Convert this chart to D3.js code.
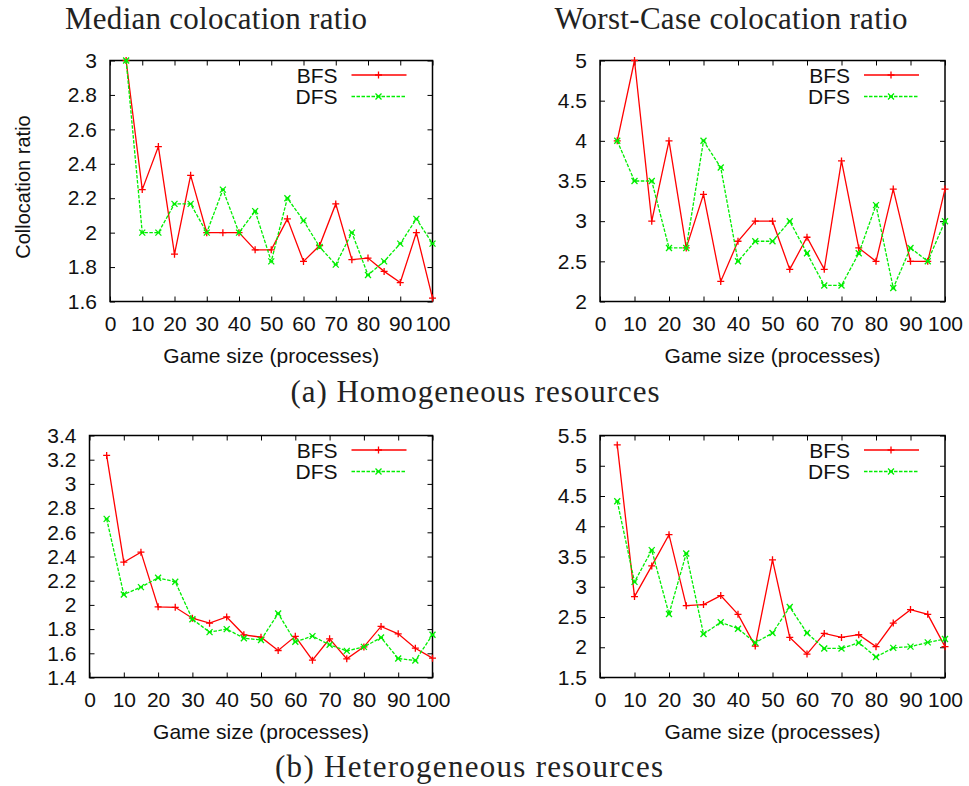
<html>
<head>
<meta charset="utf-8">
<title>Collocation ratio</title>
<script src="https://d3js.org/d3.v7.min.js"></script>
<style>
  body { margin: 0; background: #fff; }
  svg { display: block; }
</style>
</head>
<body>
<script>

// game sizes (processes)
var sizes = [5, 10, 15, 20, 25, 30, 35, 40, 45, 50, 55, 60, 65, 70, 75, 80, 85, 90, 95, 100];
var xTicks = [0, 10, 20, 30, 40, 50, 60, 70, 80, 90, 100];

// (a) homogeneous, median
var medHomBFS = [3.0, 2.25, 2.5, 1.875, 2.333, 2.0, 2.0, 2.0, 1.9, 1.9, 2.08, 1.833, 1.925, 2.167, 1.843, 1.852, 1.775, 1.71, 2.0, 1.62];
var medHomDFS = [3.0, 2.0, 2.0, 2.167, 2.167, 2.0, 2.25, 2.0, 2.125, 1.833, 2.2, 2.07, 1.917, 1.814, 2.0, 1.754, 1.833, 1.936, 2.08, 1.936];
var medHomTicks = [1.6, 1.8, 2, 2.2, 2.4, 2.6, 2.8, 3];

// (a) homogeneous, worst case
var worstHomBFS = [4.0, 5.0, 3.0, 4.0, 2.667, 3.333, 2.25, 2.75, 3.0, 3.0, 2.4, 2.8, 2.4, 3.75, 2.667, 2.5, 3.4, 2.5, 2.5, 3.4];
var worstHomDFS = [4.0, 3.5, 3.5, 2.667, 2.667, 4.0, 3.667, 2.5, 2.75, 2.75, 3.0, 2.6, 2.2, 2.2, 2.6, 3.2, 2.167, 2.667, 2.5, 3.0];
var worstHomTicks = [2, 2.5, 3, 3.5, 4, 4.5, 5];

// (b) heterogeneous, median
var medHetBFS = [3.235, 2.353, 2.436, 1.984, 1.98, 1.89, 1.849, 1.9, 1.753, 1.733, 1.623, 1.74, 1.543, 1.72, 1.554, 1.653, 1.822, 1.761, 1.642, 1.56];
var medHetDFS = [2.711, 2.086, 2.147, 2.224, 2.191, 1.882, 1.775, 1.8, 1.725, 1.71, 1.929, 1.695, 1.742, 1.67, 1.62, 1.653, 1.73, 1.557, 1.54, 1.753];
var medHetTicks = [1.4, 1.6, 1.8, 2, 2.2, 2.4, 2.6, 2.8, 3, 3.2, 3.4];

// (b) heterogeneous, worst case
var worstHetBFS = [5.345, 2.837, 3.345, 3.86, 2.688, 2.705, 2.854, 2.544, 2.019, 3.445, 2.163, 1.887, 2.229, 2.163, 2.207, 2.01, 2.4, 2.622, 2.544, 2.01];
var worstHetDFS = [4.412, 3.08, 3.605, 2.55, 3.55, 2.218, 2.412, 2.307, 2.075, 2.235, 2.666, 2.235, 1.98, 1.98, 2.075, 1.84, 1.99, 2.01, 2.08, 2.135];
var worstHetTicks = [1.5, 2, 2.5, 3, 3.5, 4, 4.5, 5, 5.5];

var seriesNames = ["BFS", "DFS"];
var colors = {BFS: "#ff0000", DFS: "#00ee00"};

var width = 969, height = 786;
var sansFont = "'Liberation Sans', Arial, Helvetica, sans-serif";
var serifFont = "'Liberation Serif', 'Times New Roman', serif";

var svg = d3.select("body").append("svg")
    .attr("width", width)
    .attr("height", height)
    .attr("viewBox", "0 0 " + width + " " + height);

var panels = [
  {x0: 110, x1: 432.5, y0: 60.5, y1: 301.5, ticks: medHomTicks, bfs: medHomBFS, dfs: medHomDFS, ylabel: true},
  {x0: 600, x1: 945, y0: 60.5, y1: 301.5, ticks: worstHomTicks, bfs: worstHomBFS, dfs: worstHomDFS},
  {x0: 89.5, x1: 432.5, y0: 435.5, y1: 677.5, ticks: medHetTicks, bfs: medHetBFS, dfs: medHetDFS},
  {x0: 600, x1: 945, y0: 435.5, y1: 677.5, ticks: worstHetTicks, bfs: worstHetBFS, dfs: worstHetDFS}
];

panels.forEach(function(p) {
  var x = d3.scaleLinear().domain([0, 100]).range([p.x0, p.x1]);
  var y = d3.scaleLinear().domain(d3.extent(p.ticks)).range([p.y1, p.y0]);
  var g = svg.append("g");

  // ticks on all four sides, pointing inwards
  g.append("g").attr("transform", "translate(0," + p.y1 + ")")
      .call(d3.axisBottom(x).tickValues(xTicks).tickFormat(d3.format("d"))
        .tickSizeInner(-5).tickSizeOuter(0).tickPadding(15));
  g.append("g").attr("transform", "translate(0," + p.y0 + ")")
      .call(d3.axisTop(x).tickValues(xTicks).tickFormat("")
        .tickSizeInner(-5).tickSizeOuter(0));
  g.append("g").attr("transform", "translate(" + p.x0 + ",0)")
      .call(d3.axisLeft(y).tickValues(p.ticks).tickFormat(d3.format("~g"))
        .tickSizeInner(-5).tickSizeOuter(0).tickPadding(13));
  g.append("g").attr("transform", "translate(" + p.x1 + ",0)")
      .call(d3.axisRight(y).tickValues(p.ticks).tickFormat("")
        .tickSizeInner(-5).tickSizeOuter(0));

  g.selectAll(".domain").remove();
  g.selectAll(".tick line").attr("stroke", "#000").attr("stroke-width", 1);
  g.selectAll(".tick text")
      .attr("fill", "#111")
      .style("font-family", sansFont)
      .style("font-size", "21px");

  g.append("rect")
      .attr("x", p.x0).attr("y", p.y0)
      .attr("width", p.x1 - p.x0).attr("height", p.y1 - p.y0)
      .attr("fill", "none").attr("stroke", "#000").attr("stroke-width", 1.5);

  g.append("text")
      .attr("x", (p.x0 + p.x1) / 2)
      .attr("y", p.y1 + 61)
      .attr("text-anchor", "middle")
      .style("font-family", sansFont)
      .style("font-size", "21px")
      .attr("fill", "#111")
      .text("Game size (processes)");

  if (p.ylabel) {
    g.append("text")
        .attr("transform", "translate(30," + ((p.y0 + p.y1) / 2 + 6) + ") rotate(-90)")
        .attr("text-anchor", "middle")
        .style("font-family", sansFont)
        .style("font-size", "20px")
        .attr("fill", "#111")
        .text("Collocation ratio");
  }

  var line = d3.line()
      .x(function(d, i) { return x(sizes[i]); })
      .y(function(d) { return y(d); });

  var data = {BFS: p.bfs, DFS: p.dfs};

  seriesNames.forEach(function(name, k) {
    var c = colors[name];
    g.append("path")
        .datum(data[name])
        .attr("d", line)
        .attr("fill", "none")
        .attr("stroke", c)
        .attr("stroke-width", 1.3)
        .attr("stroke-dasharray", name == "DFS" ? "3.5,1.5" : null);

    g.selectAll(".pt" + name)
        .data(data[name])
        .enter()
        .append("path")
        .attr("transform", function(d, i) { return "translate(" + x(sizes[i]) + "," + y(d) + ")"; })
        .attr("d", name == "BFS" ? "M-3.5,0H3.5M0,-3.5V3.5" : "M-3,-3L3,3M-3,3L3,-3M-2,0H2")
        .attr("stroke", c)
        .attr("stroke-width", 1.3)
        .attr("fill", "none");

    // legend
    var ly = p.y0 + 14.5 + k * 21.5;
    g.append("text")
        .attr("x", p.x1 - 95)
        .attr("y", ly + 7.5)
        .attr("text-anchor", "end")
        .style("font-family", sansFont)
        .style("font-size", "21px")
        .attr("fill", "#111")
        .text(name);
    g.append("line")
        .attr("x1", p.x1 - 81).attr("x2", p.x1 - 26)
        .attr("y1", ly).attr("y2", ly)
        .attr("stroke", c)
        .attr("stroke-width", 1.3)
        .attr("stroke-dasharray", name == "DFS" ? "3.5,1.5" : null);
    g.append("path")
        .attr("transform", "translate(" + (p.x1 - 54) + "," + ly + ")")
        .attr("d", name == "BFS" ? "M-3.5,0H3.5M0,-3.5V3.5" : "M-3,-3L3,3M-3,3L3,-3M-2,0H2")
        .attr("stroke", c)
        .attr("stroke-width", 1.3)
        .attr("fill", "none");
  });
});

// subfigure headings and captions (LaTeX style)
function serifText(t, cx, by, len) {
  svg.append("text")
      .attr("x", cx)
      .attr("y", by)
      .attr("text-anchor", "middle")
      .attr("textLength", len)
      .attr("lengthAdjust", "spacing")
      .style("font-family", serifFont)
      .style("font-size", "31px")
      .attr("fill", "#222")
      .text(t);
}
serifText("Median colocation ratio", 216, 29, 302);
serifText("Worst-Case colocation ratio", 731, 29, 353);
serifText("(a) Homogeneous resources", 475, 402, 369);
serifText("(b) Heterogeneous resources", 469, 777, 388);

</script>
</body>
</html>
